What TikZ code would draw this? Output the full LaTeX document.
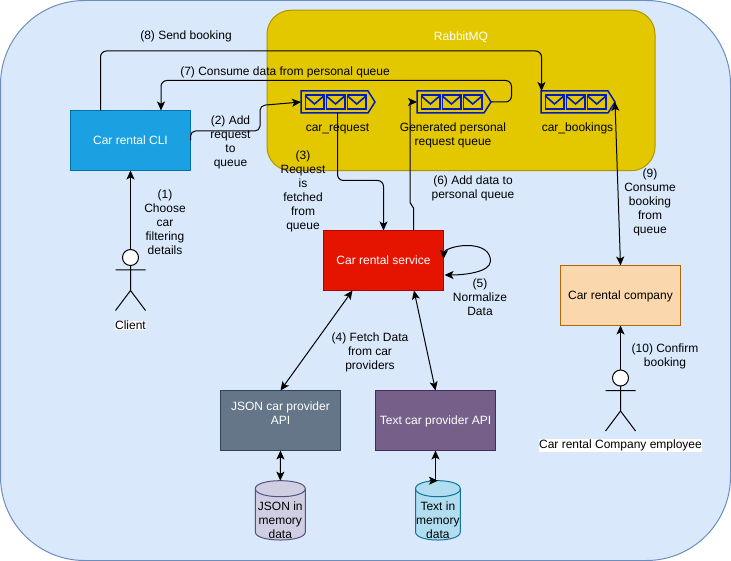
\documentclass[tikz,border=0pt]{standalone}
\usepackage{fontspec}
\setmainfont{Liberation Sans}
\usetikzlibrary{arrows.meta}
\definecolor{outerfill}{HTML}{DAE8FC}\definecolor{outerline}{HTML}{6C8EBF}
\definecolor{yelfill}{HTML}{E3C800}\definecolor{yelline}{HTML}{B09500}
\definecolor{clifill}{HTML}{1BA1E2}\definecolor{cliline}{HTML}{006EAF}
\definecolor{svcfill}{HTML}{E51400}\definecolor{svcline}{HTML}{B20000}
\definecolor{compfill}{HTML}{FAD7AC}\definecolor{compline}{HTML}{B46504}
\definecolor{jsonfill}{HTML}{647687}\definecolor{jsonline}{HTML}{314354}
\definecolor{textfill}{HTML}{76608A}\definecolor{textline}{HTML}{432D57}
\definecolor{cyljfill}{HTML}{D0CEE2}\definecolor{cyljline}{HTML}{56517E}
\definecolor{cyltfill}{HTML}{B1DDF0}\definecolor{cyltline}{HTML}{10739E}
\definecolor{qline}{HTML}{001DBC}
\tikzset{
  x=1pt,y=-1pt,
  every node/.style={font=\fontsize{12}{14}\selectfont,align=center,inner sep=0pt,outer sep=0pt},
  box/.style={draw,line width=1pt,minimum width=120pt,minimum height=60pt,text height=11.5pt,text depth=3pt},
  lab/.style={yshift=-1.5pt},
  tipx/.tip={Stealth[length=9pt,width=8pt,inset=2.2pt]},
  conn/.style={draw=black,line width=1pt,rounded corners=6pt,-tipx},
  both/.style={draw=black,line width=1pt,tipx-tipx},
  head/.style={circle,draw=black,fill=white,line width=1pt,minimum size=16pt},
  qbox/.style={minimum width=74pt,minimum height=22pt},
  cylbox/.style={minimum height=59.5pt},
  wlabel/.style={fill=white,inner sep=0.5pt},
}
\newcommand{\envel}[2]{%
  \draw[qline,line width=1.6pt] (#1,95) rectangle (#2,109);
  \draw[qline,line width=1.6pt] (#1,96) -- ({(#1+#2)/2},104) -- (#2,96);}
\newcommand{\queueicon}[2]{% name, left x
  \node[qbox] (#1) at ({#2+37},102) {};
  \draw[qline,line width=1.5pt] (#2,91) -- ({#2+67},91) -- ({#2+74},102) -- ({#2+67},113) -- (#2,113) -- cycle;
  \envel{#2+4.3}{#2+22.7}\envel{#2+25.3}{#2+43.7}\envel{#2+46.5}{#2+65}}
\newcommand{\actor}[5]{% name, x, head y, label offset, label
  \node[head] (#1) at (#2,#3) {};
  \draw[line width=1pt] (#1.south) -- (#2,{#3+33}) (#2,{#3+12.5}) ++(-15,0) -- ++(30,0)
    (#2,{#3+33}) -- ++(-15,20) (#2,{#3+33}) -- ++(15,20);
  \node[wlabel,lab] (#1label) at (#2,{#3+#4-0.5}) {#5};}
\newcommand{\cylshape}[6]{% name, left, right, fill, line, text
  \node[cylbox,minimum width={#3-#2}] (#1) at ({(#2+#3)/2},510.4) {};
  \filldraw[fill=#4,draw=#5,line width=1pt] (#2,488.7) -- (#2,532) .. controls (#2,542.7) and (#3,542.7) .. (#3,532) -- (#3,488.7)
    .. controls (#3,478) and (#2,478) .. (#2,488.7) -- cycle;
  \draw[draw=#5,line width=1pt] (#2,488.7) .. controls (#2,499.4) and (#3,499.4) .. (#3,488.7);
  \node[lab] (#1text) at ({(#2+#3)/2},518.5) {#6};}
\begin{document}
\begin{tikzpicture}
\useasboundingbox (0,0) rectangle (731,561);
\fill[white] (0,0) rectangle (731,561);
\node[draw=outerline,fill=outerfill,line width=1pt,rounded corners=84pt,minimum width=730pt,minimum height=560pt] (outer) at (365.5,280.5) {};
\node[draw=yelline,fill=yelfill,line width=1pt,rounded corners=24pt,minimum width=388pt,minimum height=160.5pt] (rabbit) at (461,90.5) {};
\node[text=white,lab] (rabbitlabel) at (461,35.5) {RabbitMQ};

\queueicon{qa}{301}
\queueicon{qb}{417}
\queueicon{qc}{541}
\node[lab] (qalabel) at (337.5,127) {car\_request};
\node[lab] (qblabel) at (453,134) {Generated personal\\request queue};
\node[lab] (qclabel) at (577.5,127) {car\_bookings};

\node[box,draw=cliline,fill=clifill,text=white] (cli) at (130.5,140.5) {Car rental CLI};
\node[box,draw=svcline,fill=svcfill,text=white] (svc) at (383.5,260.5) {Car rental service};
\node[box,draw=compline,fill=compfill] (comp) at (620.5,295.5) {Car rental company};
\node[box,draw=jsonline,fill=jsonfill,text=white] (japi) at (280.5,420.5) {JSON car provider\\API};
\node[box,draw=textline,fill=textfill,text=white] (tapi) at (435.5,420.5) {Text car provider API};
\cylshape{jcyl}{255.3}{305.3}{cyljfill}{cyljline}{JSON in\\memory\\data}
\cylshape{tcyl}{415.5}{460.3}{cyltfill}{cyltline}{Text in\\memory\\data}

\actor{client}{130.5}{257.5}{67}{Client}
\actor{emp}{620.5}{378}{66.5}{Car rental Company employee}

% connectors
\draw[conn] (client.north) -- (cli.south);
\draw[conn] (emp.north) -- (comp.south);
\draw[conn] ([xshift=-30pt]cli.north) -- ++(0,-59.5) -| ([xshift=-36.5pt]qc.north);
\draw[conn] (qb.east) -- ++(20.5,0) -- ++(0,-21.5) -| ([xshift=30.5pt]cli.north);
\draw[conn,rounded corners=5pt] (cli.east) -- ++(0,-9.5) -- ++(69.5,0) -- ++(0,-25.5) -- (qa.west);
\draw[conn] ([xshift=-0.5pt]qa.south) -- ++(0,67.5) -| (svc.north);
\draw[conn,rounded corners=2pt] ([xshift=30pt]svc.north) -- ++(0,-24.5) -- ++(-3.5,-1.5) -- ++(0,-102.5) -- (qb.west);
\draw[both] ([xshift=-31pt]svc.south) -- (japi.north);
\draw[both] ([xshift=30.5pt]svc.south) -- (tapi.north);
\draw[both] (japi.south) -- (jcyl.north);
\draw[line width=1pt,tipx-] (tapi.south) -- (435.5,480.7);
\draw[line width=1pt,-tipx] (429.5,480.7) -- (tcyl.north);
\draw[both] (qc.east) -- (comp.north);
\draw[line width=1pt,tipx-tipx]
  ([yshift=1.5pt]svc.east) .. controls (444,250) and (455,245.5) .. (467,245.5)
  .. controls (483,245.5) and (490.5,252) .. (490.5,261)
  .. controls (490.5,272) and (465,275) .. ([xshift=1pt,yshift=-14.5pt]svc.east);

% connector labels
\node[lab] (l8) at (186,35) {(8) Send booking};
\node[lab] (l7) at (285,70.5) {(7) Consume data from personal queue};
\node[lab] (l2) at (230.5,140.5) {(2) Add\\request\\to\\queue};
\node[lab] (l1) at (165,220.5) {(1)\\Choose\\car\\filtering\\details};
\node[lab] (l3) at (303,190) {(3)\\Request\\is\\fetched\\from\\queue};
\node[lab] (l6) at (473,186.5) {(6) Add data to\\personal queue};
\node[lab] (l5) at (480,295.5) {(5)\\Normalize\\Data};
\node[lab] (l4) at (370,350.5) {(4) Fetch Data\\from car\\providers};
\node[lab] (l9) at (650,200.5) {(9)\\Consume\\booking\\from\\queue};
\node[lab] (l10) at (665,354.5) {(10) Confirm\\booking};
\end{tikzpicture}
\end{document}
